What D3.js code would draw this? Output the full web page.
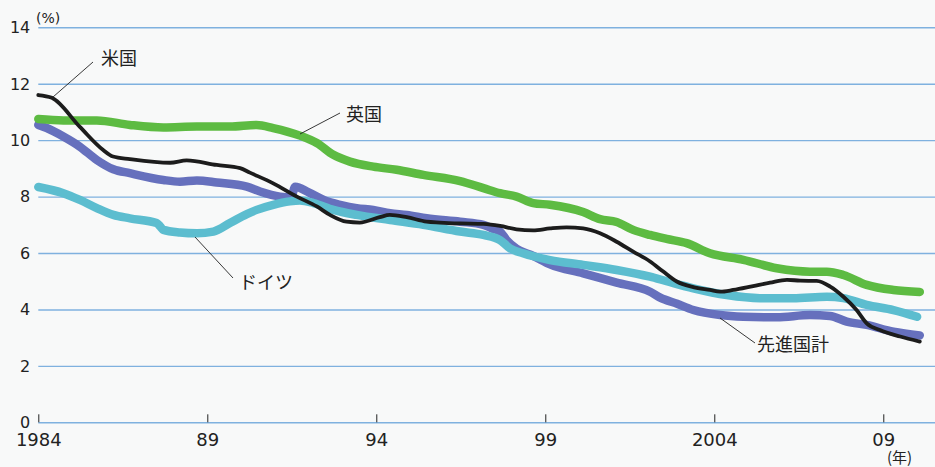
<!DOCTYPE html>
<html>
<head>
<meta charset="utf-8">
<script src="https://cdn.jsdelivr.net/npm/d3@7/dist/d3.min.js"></script>
<style>
  html, body { margin: 0; padding: 0; background: #f8f9f9; }
  svg { display: block; }
  .tick text { font-family: "DejaVu Sans", sans-serif; fill: #222; }
  .label { font-family: "Noto Sans CJK JP", sans-serif; font-size: 18px; fill: #222; }
</style>
</head>
<body>
<script>
// Long-term interest rates, % (year as decimal, value)
const usRate = [
  [1984.0, 11.6], [1984.4, 11.5], [1985.23, 10.47], [1985.91, 9.66], [1986.21, 9.42],
  [1986.71, 9.33], [1987.9, 9.2], [1988.39, 9.28], [1989.28, 9.12], [1989.97, 9.01],
  [1990.26, 8.85], [1990.95, 8.47], [1991.65, 8.0], [1992.24, 7.65], [1992.63, 7.35],
  [1993.12, 7.11], [1993.51, 7.08], [1994.1, 7.27], [1994.4, 7.35], [1994.9, 7.27],
  [1995.49, 7.11], [1995.88, 7.08], [1996.47, 7.05], [1997.17, 7.03], [1997.66, 6.96],
  [1998.15, 6.84], [1998.64, 6.8], [1999.14, 6.87], [1999.63, 6.91], [2000.12, 6.87],
  [2000.62, 6.7], [2001.11, 6.4], [2001.6, 6.05], [2002.1, 5.7], [2002.48, 5.35],
  [2002.89, 4.99], [2003.38, 4.79], [2003.87, 4.69], [2004.17, 4.63], [2004.56, 4.69],
  [2005.15, 4.83], [2005.65, 4.95], [2006.15, 5.05], [2006.54, 5.02], [2007.03, 5.01],
  [2007.43, 4.81], [2007.82, 4.45], [2008.21, 3.98], [2008.51, 3.51], [2008.9, 3.27],
  [2009.5, 3.04], [2010.08, 2.86]
];
const ukRate = [
  [1984.0, 10.75], [1984.74, 10.7], [1985.73, 10.7], [1986.71, 10.54], [1987.7, 10.45],
  [1988.69, 10.48], [1989.67, 10.48], [1990.46, 10.54], [1990.95, 10.43], [1991.74, 10.16],
  [1992.24, 9.9], [1992.73, 9.48], [1993.22, 9.24], [1993.91, 9.06], [1994.6, 8.95],
  [1995.39, 8.77], [1996.48, 8.55], [1997.17, 8.3], [1997.66, 8.12], [1998.15, 8.0],
  [1998.64, 7.77], [1999.14, 7.71], [2000.12, 7.45], [2000.62, 7.2], [2001.11, 7.1],
  [2001.6, 6.82], [2002.1, 6.64], [2002.59, 6.5], [2003.18, 6.35], [2003.87, 5.99],
  [2004.86, 5.76], [2005.85, 5.46], [2006.83, 5.34], [2007.33, 5.34], [2007.82, 5.22],
  [2008.51, 4.87], [2009.3, 4.69], [2010.08, 4.62]
];
const deRate = [
  [1984.0, 8.34], [1984.74, 8.12], [1985.23, 7.88], [1985.73, 7.59], [1986.22, 7.35],
  [1986.71, 7.23], [1987.5, 7.06], [1987.6, 6.95], [1987.7, 6.82], [1988.19, 6.73],
  [1988.69, 6.7], [1989.18, 6.76], [1989.67, 7.06], [1990.17, 7.38], [1990.46, 7.53],
  [1990.95, 7.71], [1991.44, 7.83], [1991.74, 7.86], [1992.14, 7.77], [1992.73, 7.53],
  [1993.42, 7.35], [1994.41, 7.17], [1995.39, 7.0], [1996.48, 6.76], [1997.17, 6.64],
  [1997.66, 6.46], [1997.95, 6.17], [1998.34, 5.99], [1999.14, 5.75], [2000.12, 5.58],
  [2001.11, 5.4], [2002.1, 5.16], [2002.59, 5.0], [2003.38, 4.75], [2004.37, 4.51],
  [2005.35, 4.4], [2006.33, 4.4], [2007.33, 4.45], [2007.82, 4.4], [2008.51, 4.16],
  [2009.3, 3.98], [2010.0, 3.74]
];
const advancedRate = [
  [1984.0, 10.54], [1984.25, 10.43], [1984.74, 10.13], [1985.23, 9.77], [1985.73, 9.3],
  [1986.22, 8.97], [1986.71, 8.83], [1987.7, 8.59], [1988.19, 8.53], [1988.69, 8.57],
  [1989.28, 8.5], [1990.17, 8.35], [1990.56, 8.18], [1991.15, 8.0], [1991.48, 7.97],
  [1991.6, 8.35], [1992.0, 8.15], [1992.5, 7.85], [1992.93, 7.71], [1993.42, 7.59],
  [1993.91, 7.53], [1994.41, 7.41], [1994.9, 7.35], [1995.49, 7.23], [1996.48, 7.11],
  [1997.17, 7.0], [1997.46, 6.85], [1997.66, 6.76], [1997.86, 6.45], [1998.15, 6.15],
  [1998.64, 5.9], [1999.14, 5.6], [2000.12, 5.28], [2001.11, 4.95], [2002.1, 4.63],
  [2002.4, 4.42], [2002.9, 4.2], [2003.38, 3.98], [2004.17, 3.8], [2004.86, 3.74],
  [2005.85, 3.72], [2006.83, 3.8], [2007.42, 3.77], [2007.92, 3.57], [2008.51, 3.45],
  [2009.3, 3.21], [2010.08, 3.08]
];

const yTicks = [0, 2, 4, 6, 8, 10, 12, 14];
const xTicks = [1984, 1989, 1994, 1999, 2004, 2009];
const xTickLabels = ["1984", "89", "94", "99", "2004", "09"];

const W = 935, H = 467;
const plotLeft = 38.3, plotRight = 935, plotTop = 27.3, plotBottom = 422.3;

const svg = d3.select("body").append("svg").attr("width", W).attr("height", H);

const x = d3.scaleLinear().domain([1984, 2010.53]).range([plotLeft, plotRight]);
const y = d3.scaleLinear().domain([0, 14]).range([plotBottom, plotTop]);

// horizontal grid + y labels
const yAxis = svg.append("g")
  .attr("transform", `translate(${plotLeft},0)`)
  .call(d3.axisLeft(y).tickValues(yTicks).tickFormat(d3.format("d"))
    .tickSize(-(plotRight - plotLeft)).tickPadding(8));
yAxis.select(".domain").remove();
yAxis.selectAll(".tick line").attr("stroke", "#7fb1df").attr("stroke-width", 1.4);
yAxis.selectAll(".tick text").attr("font-size", 16).attr("dy", "0.33em");

// year ticks (short marks rising from the baseline)
const xAxis = svg.append("g")
  .attr("transform", `translate(0,${plotBottom})`)
  .call(d3.axisBottom(x).tickValues(xTicks).tickFormat((d, i) => xTickLabels[i])
    .tickSizeInner(-8).tickSizeOuter(0).tickPadding(11));
xAxis.select(".domain").remove();
xAxis.selectAll(".tick line").attr("stroke", "#222").attr("stroke-width", 1);
xAxis.selectAll(".tick text").attr("font-size", 18);

// unit labels
svg.append("text").attr("x", 36).attr("y", 23).attr("font-family", "DejaVu Sans")
  .attr("font-size", 14).attr("fill", "#222").text("(%)");
svg.append("text").attr("x", 887).attr("y", 463).attr("class", "label")
  .style("font-size", "15px").text("(年)");

const line = d3.line().x(d => x(d[0])).y(d => y(d[1])).curve(d3.curveMonotoneX);

const series = [
  { data: advancedRate, color: "#6670bd", width: 8.5 },
  { data: deRate, color: "#5cbdcf", width: 8.5 },
  { data: ukRate, color: "#5dbb42", width: 8.5 },
  { data: usRate, color: "#1c1c1c", width: 3.8 }
];
svg.append("g").selectAll("path").data(series).join("path")
  .attr("d", d => line(d.data))
  .attr("fill", "none")
  .attr("stroke", d => d.color)
  .attr("stroke-width", d => d.width)
  .attr("stroke-linejoin", "round")
  .attr("stroke-linecap", "round");

// series labels with leader lines
const labels = [
  { text: "米国", lx: 101, ly: 65, x1: 93, y1: 62, x2: 53, y2: 97 },
  { text: "英国", lx: 346, ly: 121, x1: 340, y1: 113, x2: 300, y2: 134 },
  { text: "ドイツ", lx: 239, ly: 289, x1: 233, y1: 278, x2: 195, y2: 237 },
  { text: "先進国計", lx: 757, ly: 351, x1: 755, y1: 343, x2: 720, y2: 318 }
];
const lg = svg.append("g");
lg.selectAll("line").data(labels).join("line")
  .attr("x1", d => d.x1).attr("y1", d => d.y1)
  .attr("x2", d => d.x2).attr("y2", d => d.y2)
  .attr("stroke", "#222").attr("stroke-width", 0.9);
lg.selectAll("text").data(labels).join("text")
  .attr("class", "label")
  .attr("x", d => d.lx).attr("y", d => d.ly)
  .text(d => d.text);
</script>
</body>
</html>
